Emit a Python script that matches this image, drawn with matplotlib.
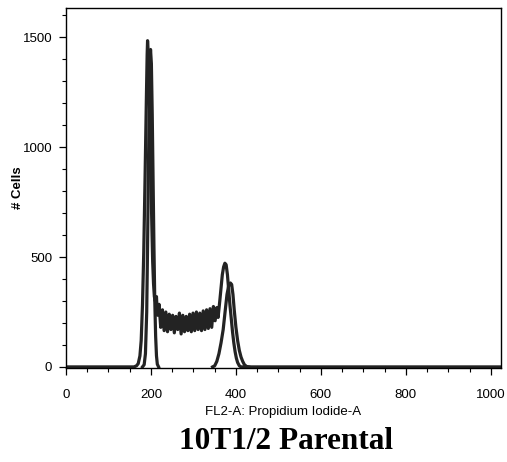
import matplotlib
matplotlib.use("Agg")
import matplotlib.pyplot as plt
from matplotlib.ticker import MultipleLocator

# Histogram (raw counts) : G1 peak, noisy S-phase plateau, G2 peak
hist_x = [0, 160, 166, 170, 174, 177, 180, 183, 186, 189, 191, 192, 194, 196, 198, 200,
          202, 204, 206, 208, 210, 213, 215, 219, 223, 227, 231, 235, 239, 243, 247, 251,
          255, 259, 263, 267, 271, 275, 279, 283, 287, 291, 295, 299, 303, 307, 311, 315,
          319, 323, 327, 331, 335, 339, 343, 347, 351, 355, 358, 362, 365, 368, 371, 374,
          377, 380, 383, 386, 389, 392, 395, 398, 401, 404, 408, 412, 1024]
hist_y = [0, 0, 5, 15, 50, 120, 280, 520, 850, 1200, 1420, 1485, 1420, 1250, 1050, 850,
          650, 480, 380, 320, 300, 320, 235, 285, 180, 260, 165, 250, 160, 240, 170, 235,
          155, 230, 170, 245, 150, 235, 160, 230, 165, 240, 160, 245, 165, 250, 170, 245,
          165, 255, 170, 260, 175, 265, 180, 275, 210, 270, 225, 300, 360, 420, 455, 472,
          465, 420, 350, 280, 220, 160, 110, 70, 40, 20, 5, 0, 0]

# G1 component
g1_x = [180, 184, 187, 190, 192, 194, 196, 198, 199, 201, 203, 205, 207, 209, 211, 213, 215, 218]
g1_y = [0, 10, 60, 250, 550, 900, 1200, 1400, 1445, 1380, 1150, 850, 550, 300, 140, 50, 12, 0]

# G2 component
g2_x = [345, 350, 355, 360, 365, 370, 375, 379, 383, 387, 390, 393, 396, 400, 404, 408,
        412, 416, 420, 425, 430]
g2_y = [0, 5, 25, 60, 110, 170, 260, 330, 370, 382, 375, 330, 260, 180, 120, 75,
        45, 25, 10, 2, 0]

x_label = "FL2-A: Propidium Iodide-A"
y_label = "# Cells"
title = "10T1/2 Parental"

plt.rcParams['font.family'] = ['Liberation Sans', 'DejaVu Sans']

fig = plt.figure(figsize=(5.07, 4.62), dpi=100)
ax = fig.add_axes([66/507, 1 - 368/462, (501-66)/507, (368-7.5)/462])

col = "#232323"
lw = 2.3
ax.plot(hist_x, hist_y, color=col, lw=lw, solid_joinstyle='round')
ax.plot(g1_x, g1_y, color=col, lw=lw, solid_joinstyle='round')
ax.plot(g2_x, g2_y, color=col, lw=lw, solid_joinstyle='round')

ax.set_xlim(0, 1024)
ax.set_ylim(-5, 1636)
ax.xaxis.set_major_locator(MultipleLocator(200))
ax.xaxis.set_minor_locator(MultipleLocator(50))
ax.yaxis.set_major_locator(MultipleLocator(500))
ax.yaxis.set_minor_locator(MultipleLocator(100))
ax.tick_params(axis='both', which='major', direction='out', length=5, width=0.9,
               labelsize=9.5, color='black')
ax.tick_params(axis='both', which='minor', direction='out', length=3, width=0.8, color='black')
ax.tick_params(axis='x', which='major', pad=10)
ax.tick_params(axis='y', which='major', pad=5)
for s in ax.spines.values():
    s.set_linewidth(1.0)

ax.set_xlabel(x_label, fontsize=9.5, labelpad=4)
ax.set_ylabel(y_label, fontsize=9.5, labelpad=-1, fontweight='bold')

fig.text(0.565, 0.045, title, ha='center', va='center', fontsize=22.5,
         fontweight='bold', family=['Liberation Serif', 'DejaVu Serif'])

fig.savefig("out.png", dpi=100)
